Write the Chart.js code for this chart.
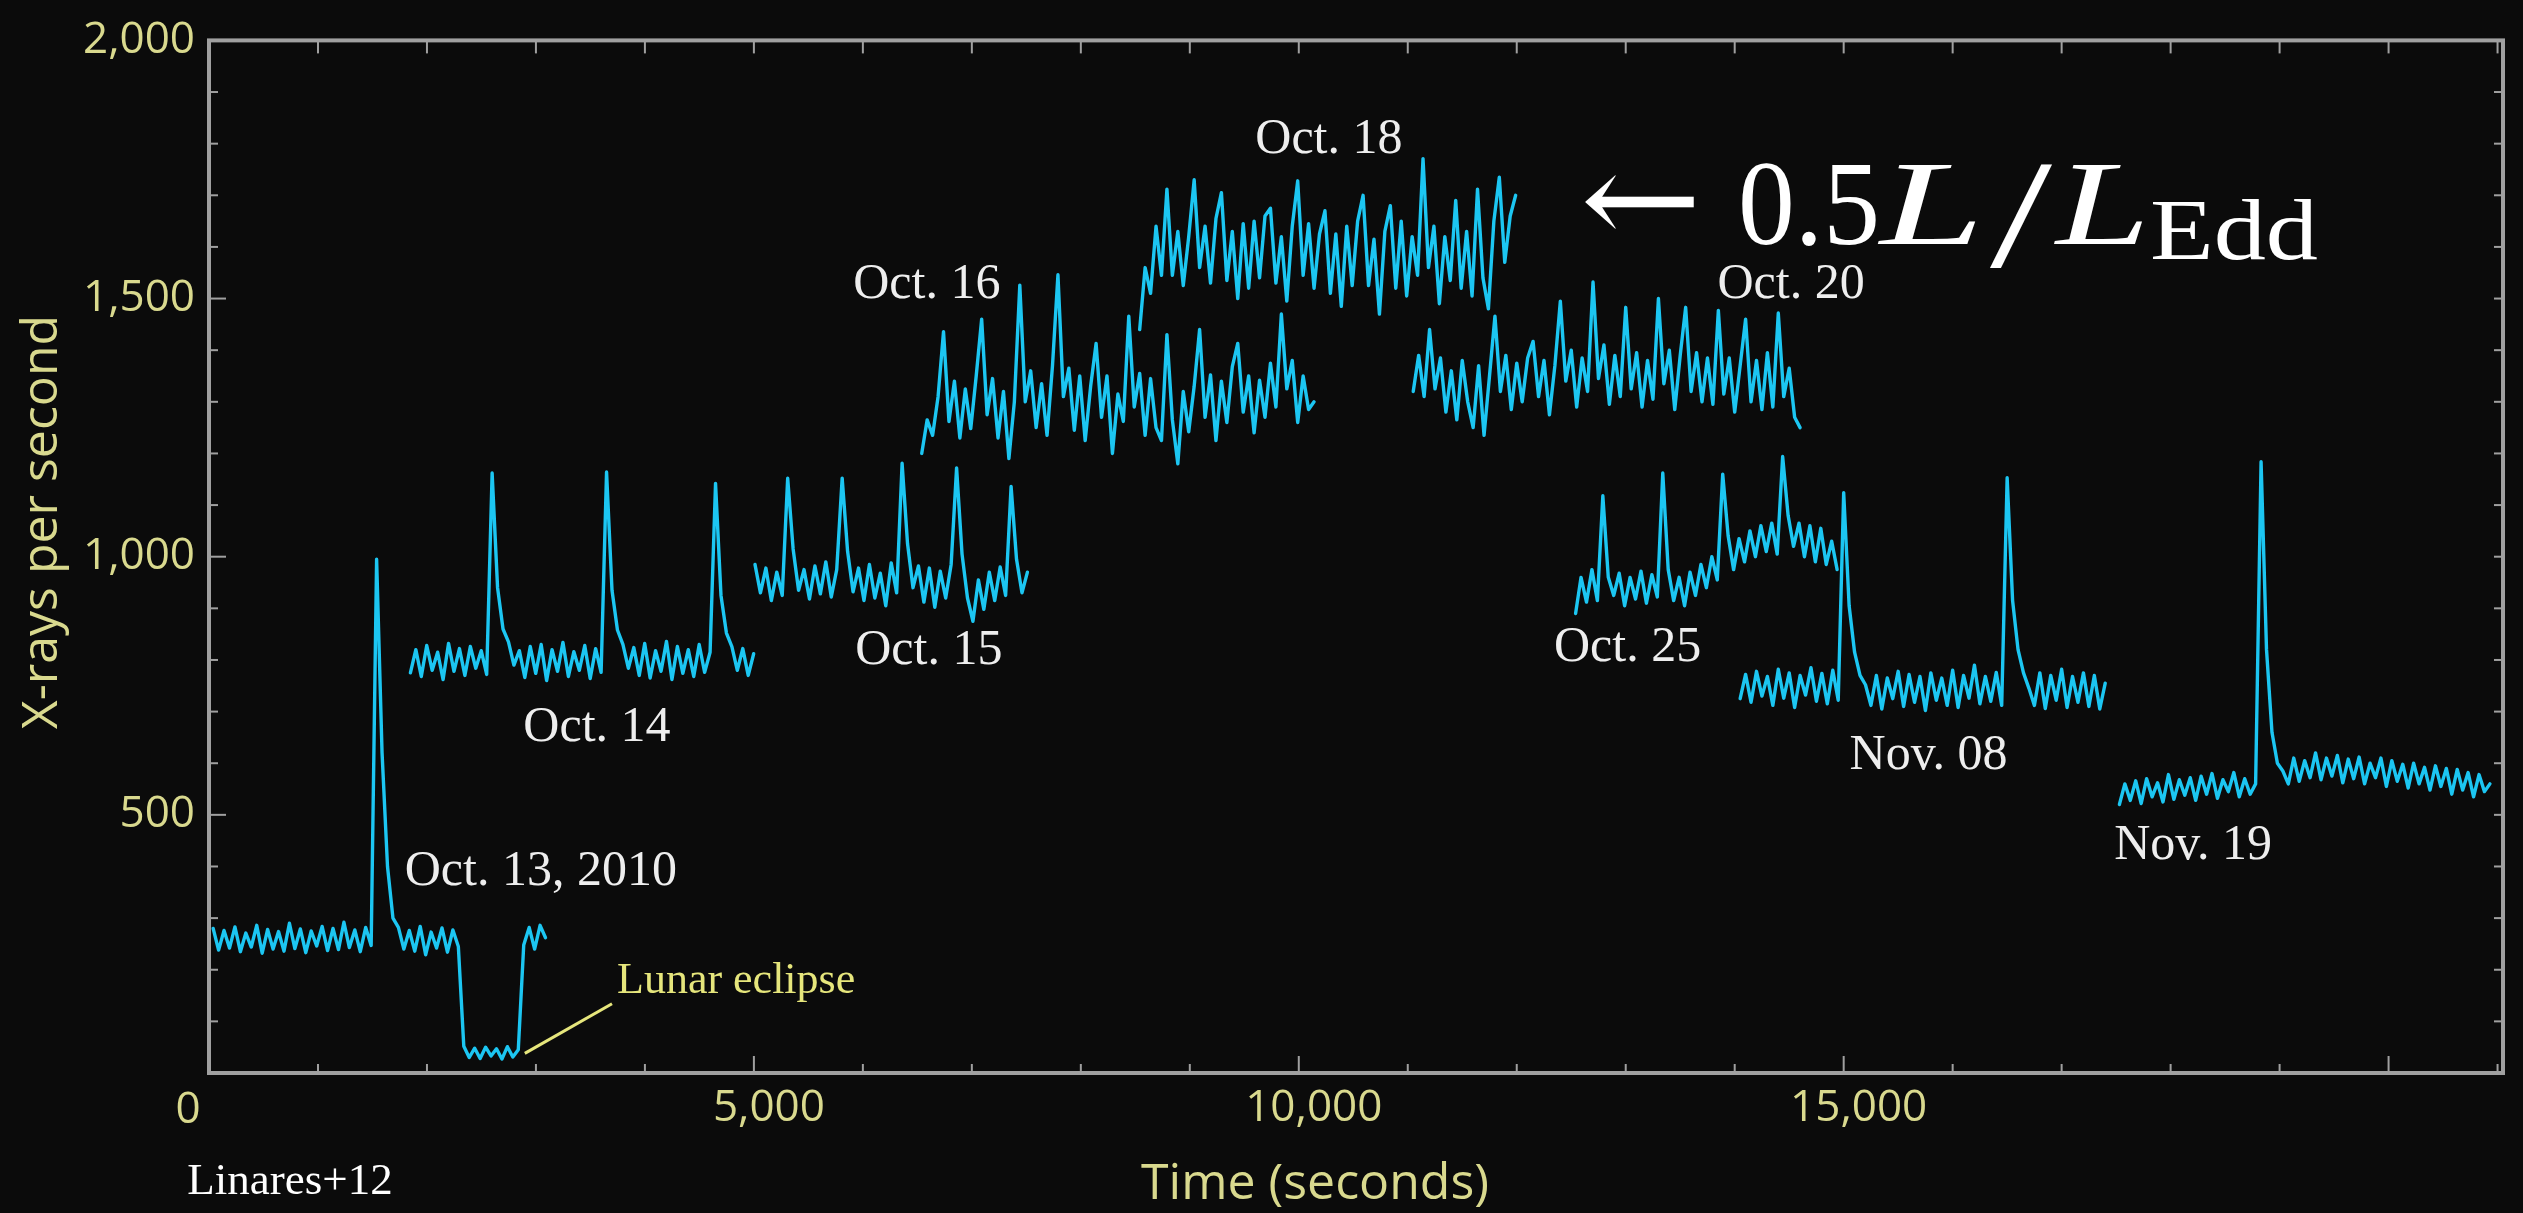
<!DOCTYPE html>
<html>
<head>
<meta charset="utf-8">
<script src="https://cdn.jsdelivr.net/npm/chart.js@4"></script>
<style>
  html, body { margin: 0; padding: 0; background: #0b0b0b; }
  #wrap { width: 2523px; height: 1213px; position: relative; }
</style>
</head>
<body>
<div id="wrap"><canvas id="c"></canvas></div>
<script>
// ---------------- DATA ----------------
const segmentNames = ['Oct. 13, 2010', 'Oct. 14', 'Oct. 15', 'Oct. 16', 'Oct. 18', 'Oct. 20', 'Oct. 25', 'Nov. 08', 'Nov. 19'];
// start time (s) of each observation segment on the common time axis
const segmentStart = [38, 1848, 5010, 6540, 8540, 11050, 12540, 14050, 17530];
const sampleStep = 50; // seconds between read samples

const oct13 = [280, 238, 276, 242, 283, 235, 271, 244, 286, 232, 278, 240, 274, 236, 290, 241, 279, 233, 275, 246, 284, 237, 280, 239, 292, 243, 277, 235, 282, 247,
  995, 620, 400, 300, 282,
  240, 276, 236, 284, 229, 273, 242, 281, 234, 277, 245,
  52, 30, 48, 28, 50, 33, 47, 27, 51, 31, 45,
  248, 282, 240, 286, 262];
const oct14 = [775, 820, 768, 828, 780, 815, 762, 832, 778, 822, 770, 826, 784, 818, 772,
  1162, 940, 860, 835, 790,
  818, 766, 826, 774, 830, 760, 820, 778, 834, 768, 816, 780, 828, 764, 822, 776,
  1164, 935, 858, 830, 784,
  824, 770, 832, 765, 818, 778, 836, 762, 826, 774, 820, 768, 830, 776, 815,
  1142, 925, 852, 826, 780,
  822, 770, 812];
const oct15 = [985, 930, 978, 915, 970, 925,
  1152, 1015, 935, 975,
  918, 982, 928, 990, 922, 975,
  1152, 1010, 932, 978,
  915, 985, 920, 968, 905, 988, 930,
  1181, 1025, 940, 982,
  912, 978, 902, 972, 920, 985,
  1172, 1005, 920, 875,
  955, 898, 970, 915, 980, 925,
  1136, 995, 930, 970];
const oct16 = [1200, 1265, 1235, 1310,
  1436, 1262, 1340, 1230, 1325, 1248, 1350,
  1460, 1275, 1345, 1230, 1320, 1190, 1300,
  1526, 1300, 1360, 1250, 1335, 1235, 1370,
  1546, 1310, 1365, 1245, 1350, 1225, 1330,
  1413, 1270, 1350, 1200, 1315, 1262,
  1466, 1290, 1355, 1235, 1345, 1250, 1225,
  1430, 1265, 1180, 1320, 1242, 1330,
  1440, 1270, 1352, 1225, 1340, 1260, 1368,
  1413, 1280, 1350, 1240, 1342, 1270, 1375, 1290,
  1470, 1325, 1380, 1260, 1350, 1285, 1300];
const oct18 = [1440, 1560, 1510, 1640, 1545,
  1712, 1545, 1630, 1525, 1620,
  1730, 1560, 1640, 1530, 1655,
  1705, 1535, 1630, 1500, 1645, 1520, 1650, 1540, 1660,
  1675, 1530, 1620, 1495, 1640,
  1728, 1545, 1645, 1520, 1625,
  1670, 1510, 1625, 1485, 1640, 1525, 1650,
  1700, 1525, 1615, 1470, 1630,
  1680, 1520, 1650, 1505, 1620, 1545,
  1771, 1560, 1640, 1490, 1620, 1535,
  1690, 1520, 1630, 1505,
  1712, 1540, 1480, 1650,
  1735, 1570, 1660,
  1700];
const oct20 = [1320, 1390, 1310,
  1440, 1325, 1385, 1280, 1360, 1265, 1380, 1300, 1250, 1370, 1235, 1350,
  1466, 1320, 1390, 1285, 1375, 1300, 1385,
  1417, 1310, 1380, 1275, 1370,
  1495, 1340, 1400, 1290, 1385, 1320,
  1532, 1345, 1410, 1295, 1390, 1310,
  1483, 1325, 1395, 1290, 1380, 1305,
  1500, 1335, 1400, 1285, 1390,
  1483, 1320, 1395, 1300, 1385, 1295,
  1477, 1315, 1385, 1280, 1370,
  1460, 1300, 1380, 1285, 1395, 1290,
  1472, 1310, 1365, 1270, 1250];
const oct25 = [890, 960, 912, 975, 915,
  1118, 960, 925, 968, 905, 960, 918, 972, 910, 965, 922,
  1162, 975, 915, 960, 905, 970, 925, 985, 940, 1000, 955,
  1160, 1040, 975, 1035, 990, 1050, 1000, 1060, 1010, 1065, 1005,
  1194, 1080, 1020, 1065, 1000, 1060, 990, 1055, 985, 1030, 975];
const nov08 = [725, 772, 718, 778, 730, 768, 712, 782, 726, 775, 708, 770, 732, 785, 720, 774, 715, 780, 722,
  1124, 905, 815, 770, 752,
  712, 770, 705, 765, 725, 778, 710, 772, 718, 768, 702, 775, 722, 765, 712, 780, 708, 770, 726, 790, 715, 768, 720, 776, 712,
  1153, 915, 820, 775, 745,
  712, 775, 706, 770, 722, 782, 708, 768, 718, 775, 710, 770, 705, 755];
const nov19 = [520, 560, 528, 566, 522, 570, 535, 562, 525, 578, 530, 568, 538, 572, 528, 575, 540, 580, 532, 568, 545, 582, 535, 570, 540, 560,
  1184, 820, 660, 600, 585,
  560, 610, 565, 605, 572, 620, 568, 610, 575, 615, 562, 608, 570, 612, 560, 600, 572, 610, 555, 605,
  565, 598, 552, 600, 560, 592, 548, 595, 555, 590, 540, 588, 548, 582, 535, 578, 545, 560];

const segmentValues = [oct13, oct14, oct15, oct16, oct18, oct20, oct25, nov08, nov19];

const xTickValues = [5000, 10000, 15000];
const yTickValues = [500, 1000, 1500, 2000];
const xMax = 21050;
const yMax = 2000;

// annotation texts (anchored in data coordinates)
const labelTexts = ['Oct. 13, 2010', 'Oct. 14', 'Oct. 15', 'Oct. 16', 'Oct. 18', 'Oct. 20', 'Oct. 25', 'Nov. 08', 'Nov. 19'];
const labelX = [3045, 3560, 6605, 6587, 10276, 14517, 13017, 15778, 18206];
const labelY = [390, 668, 818, 1526, 1808, 1526, 823, 614, 440];

// ---------------- STYLE ----------------
const CYAN = '#1cc6f2';
const AXIS_YELLOW = '#d9d98e';
const ECLIPSE_YELLOW = '#e6e67c';
const FRAME = '#a0a0a0';
const SANS = '"Open Sans", "Noto Sans", sans-serif';
const SERIF = '"Liberation Serif", "DejaVu Serif", serif';

const datasets = segmentValues.map((vals, k) => ({
  label: segmentNames[k],
  data: vals.map((v, i) => ({ x: segmentStart[k] + i * sampleStep, y: v })),
  borderColor: CYAN,
  borderWidth: 3.4,
  borderJoinStyle: 'round',
  borderCapStyle: 'round',
  pointRadius: 0,
  tension: 0,
  fill: false
}));

const fmt = v => Number(v).toLocaleString('en-US');

function fitText(ctx, text, font, x, y, w) {
  ctx.font = font;
  const m = ctx.measureText(text).width;
  ctx.save();
  ctx.translate(x, y);
  ctx.scale(w / m, 1);
  ctx.fillText(text, 0, 0);
  ctx.restore();
}

const decor = {
  id: 'decor',
  afterDraw(chart) {
    const { ctx, chartArea: a, scales } = chart;
    const xs = scales.x, ys = scales.y;
    ctx.save();
    // inward tick marks
    ctx.strokeStyle = FRAME;
    ctx.lineWidth = 2;
    const seg = (x1, y1, x2, y2) => { ctx.beginPath(); ctx.moveTo(x1, y1); ctx.lineTo(x2, y2); ctx.stroke(); };
    for (let v = 1000; v < xMax; v += 1000) {
      const px = xs.getPixelForValue(v);
      const L = v % 5000 === 0 ? 17 : 9;
      seg(px, a.bottom, px, a.bottom - L);
      seg(px, a.top, px, a.top + 13);
    }
    for (let v = 100; v < yMax; v += 100) {
      const py = ys.getPixelForValue(v);
      const L = v % 500 === 0 ? 17 : 9;
      seg(a.left, py, a.left + L, py);
      seg(a.right, py, a.right - 9, py);
    }
    // frame
    ctx.lineWidth = 4;
    ctx.strokeRect(a.left, a.top, a.right - a.left, a.bottom - a.top);

    // shared origin label
    ctx.fillStyle = AXIS_YELLOW;
    ctx.font = '44px ' + SANS;
    ctx.textAlign = 'center';
    ctx.textBaseline = 'middle';
    ctx.fillText('0', a.left - 21, a.bottom + 37);

    // axis titles
    ctx.font = '50px ' + SANS;
    ctx.fillText('Time (seconds)', 1315, 1185);
    ctx.save();
    ctx.translate(43, 522);
    ctx.rotate(-Math.PI / 2);
    ctx.fillText('X-rays per second', 0, 0);
    ctx.restore();

    // citation
    ctx.fillStyle = '#ffffff';
    ctx.font = '45px ' + SERIF;
    ctx.fillText('Linares+12', 290, 1182);

    // segment date labels
    ctx.fillStyle = '#eeeeee';
    ctx.font = '50px ' + SERIF;
    labelTexts.forEach((t, i) => {
      ctx.fillText(t, xs.getPixelForValue(labelX[i]), ys.getPixelForValue(labelY[i]));
    });

    // lunar eclipse callout
    ctx.strokeStyle = ECLIPSE_YELLOW;
    ctx.lineWidth = 3;
    seg(xs.getPixelForValue(2898), ys.getPixelForValue(38), xs.getPixelForValue(3698), ys.getPixelForValue(134));
    ctx.fillStyle = ECLIPSE_YELLOW;
    ctx.font = '44px ' + SERIF;
    ctx.textAlign = 'left';
    ctx.fillText('Lunar eclipse', xs.getPixelForValue(3744), ys.getPixelForValue(177));

    // Eddington annotation:  ← 0.5 L / L_Edd
    ctx.fillStyle = '#ffffff';
    ctx.textAlign = 'left';
    ctx.textBaseline = 'alphabetic';
    fitText(ctx, '\u2190', '130px "DejaVu Sans ExtraLight", "DejaVu Serif", serif', 1580, 244, 122);
    fitText(ctx, '0.5', '120px ' + SERIF, 1738, 244, 142);
    fitText(ctx, 'L', 'italic 120px ' + SERIF, 1880, 244, 104);
    fitText(ctx, '/', '154px ' + SERIF, 1990, 266, 62);
    fitText(ctx, 'L', 'italic 120px ' + SERIF, 2056, 244, 94);
    fitText(ctx, 'Edd', '86px ' + SERIF, 2150, 259, 168);
    ctx.restore();
  }
};

new Chart(document.getElementById('c'), {
  type: 'line',
  data: { datasets },
  options: {
    responsive: true,
    maintainAspectRatio: false,
    devicePixelRatio: 1,
    animation: false,
    layout: { padding: { left: 0, top: 31, right: 20, bottom: 0 } },
    plugins: { legend: { display: false }, tooltip: { enabled: false } },
    scales: {
      x: {
        type: 'linear',
        min: 0,
        max: xMax,
        grid: { display: false, drawTicks: false, tickLength: 0 },
        border: { display: false },
        afterBuildTicks: s => { s.ticks = xTickValues.map(v => ({ value: v })); },
        afterFit: s => { s.height = 140; },
        ticks: {
          color: AXIS_YELLOW,
          font: { family: SANS, size: 44 },
          padding: 9,
          labelOffset: 15,
          maxRotation: 0,
          autoSkip: false,
          callback: v => fmt(v)
        }
      },
      y: {
        type: 'linear',
        min: 0,
        max: yMax,
        grid: { display: false, drawTicks: false, tickLength: 0 },
        border: { display: false },
        afterBuildTicks: s => { s.ticks = yTickValues.map(v => ({ value: v })); },
        afterFit: s => { s.width = 209; },
        ticks: {
          color: AXIS_YELLOW,
          font: { family: SANS, size: 44 },
          padding: 14,
          autoSkip: false,
          callback: v => fmt(v)
        }
      }
    }
  },
  plugins: [decor]
});
</script>
</body>
</html>
